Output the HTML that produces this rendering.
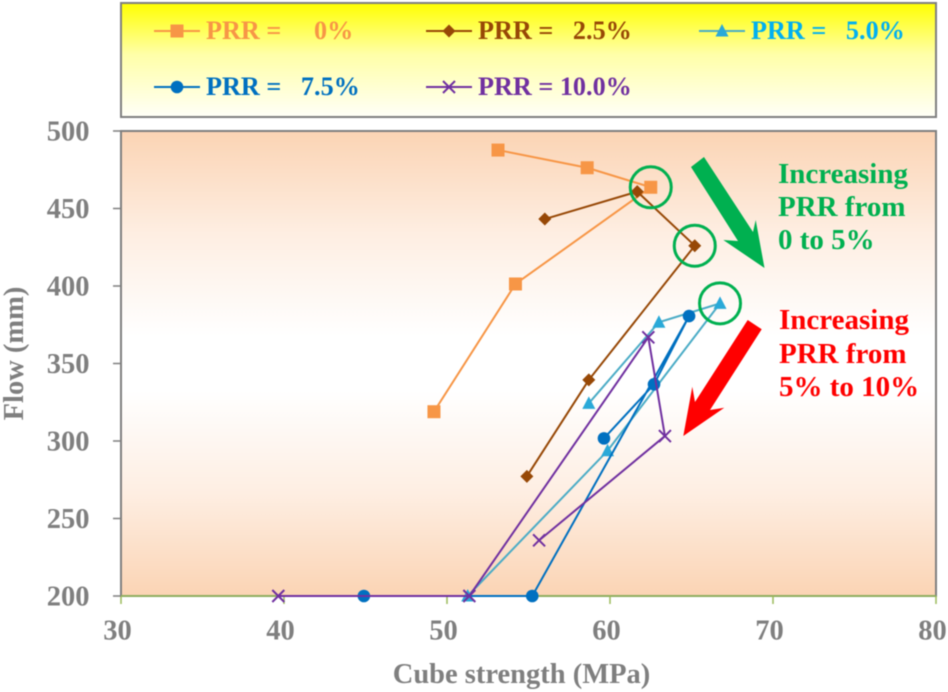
<!DOCTYPE html>
<html lang="en">
<head>
<meta charset="utf-8">
<title>Flow vs cube strength</title>
<style>
html,body{margin:0;padding:0;background:#fff;}
body{width:948px;height:692px;overflow:hidden;}
svg{display:block;font-family:"Liberation Serif",serif;font-weight:bold;filter:blur(0.5px);}
text{white-space:pre;}
</style>
</head>
<body>
<svg id="chart" xmlns="http://www.w3.org/2000/svg" width="948" height="692" viewBox="0 0 948 692">
  <defs>
    <linearGradient id="legendFill" x1="0" y1="0" x2="0" y2="1">
      <stop offset="0" stop-color="#ffff00"/>
      <stop offset="0.45" stop-color="#ffffa8"/>
      <stop offset="1" stop-color="#fffff8"/>
    </linearGradient>
    <linearGradient id="plotFill" x1="0" y1="0" x2="0" y2="1">
      <stop offset="0" stop-color="#fbd4b4"/>
      <stop offset="0.22" stop-color="#feeee2"/>
      <stop offset="0.44" stop-color="#ffffff"/>
      <stop offset="0.56" stop-color="#ffffff"/>
      <stop offset="0.78" stop-color="#feeee2"/>
      <stop offset="1" stop-color="#fbd4b4"/>
    </linearGradient>
  </defs>
  <rect x="121" y="3" width="815" height="114" fill="url(#legendFill)" stroke="#7f7f7f" stroke-width="2"/>
  <rect x="121" y="131" width="815" height="465" fill="url(#plotFill)" stroke="#7f7f7f" stroke-width="2"/>
  <g id="axes"></g>
  <g id="series"></g>
  <g id="highlights"></g>
  <g id="legend"></g>
  <polygon fill="#00b050" points="691,167 704,157 753,232 755.7,220 764.5,268 723.3,240 738,241"/>
  <polygon fill="#ff0000" points="747.7,320 761.7,329.3 710,410 724.3,407.7 683.3,436 692.3,386.7 695,402"/>
  <text fill="#00b050" font-size="29">
    <tspan x="778" y="183">Increasing</tspan>
    <tspan x="778" y="216">PRR from</tspan>
    <tspan x="778" y="249">0 to 5%</tspan>
  </text>
  <text fill="#ff0000" font-size="29">
    <tspan x="779" y="329">Increasing</tspan>
    <tspan x="779" y="363">PRR from</tspan>
    <tspan x="779" y="396">5% to 10%</tspan>
  </text>
  <text x="521.5" y="683" text-anchor="middle" fill="#7f7f7f" font-size="28.5">Cube strength (MPa)</text>
  <text transform="translate(23,353.5) rotate(-90)" text-anchor="middle" fill="#7f7f7f" font-size="28.5">Flow (mm)</text>
</svg>
<script>
var xTicks = [30, 40, 50, 60, 70, 80];
var yTicks = [200, 250, 300, 350, 400, 450, 500];

var prr0Strength = [53.13, 58.6, 62.5, 54.2, 49.2];
var prr0Flow = [487.7, 476.3, 463.7, 401.3, 318.9];
var prr25Strength = [56.0, 61.67, 65.2, 58.7, 54.9];
var prr25Flow = [443.2, 460.9, 426, 339.4, 277.2];
var prr50Strength = [58.7, 63.0, 66.75, 59.85, 51.27];
var prr50Flow = [324.3, 376.6, 388.8, 293.7, 200];
var prr75Strength = [59.63, 62.7, 64.85, 55.23, 44.9];
var prr75Flow = [301.7, 336.6, 380.6, 200, 200];
var prr100Strength = [55.65, 63.37, 62.35, 51.37, 39.65];
var prr100Flow = [235.9, 303.2, 366.9, 200, 200];

var legendLabels = ["PRR =     0%", "PRR =   2.5%", "PRR =   5.0%", "PRR =   7.5%", "PRR = 10.0%"];
var lineColors = ["#f79646", "#974806", "#4bacc6", "#0070c0", "#7030a0"];
var markerColors = ["#f79646", "#974806", "#2aa9d8", "#0070c0", "#7030a0"];
var labelColors = ["#f79646", "#974806", "#00b0f0", "#0070c0", "#7030a0"];
var markerShapes = ["square", "diamond", "triangle", "circle", "cross"];

var NS = "http://www.w3.org/2000/svg";
function xPos(v) { return 121 + (v - 30) * 16.3; }
function yPos(v) { return 596 - (v - 200) * 1.55; }
function make(tag, attrs, parent) {
  var node = document.createElementNS(NS, tag);
  for (var k in attrs) { node.setAttribute(k, attrs[k]); }
  parent.appendChild(node);
  return node;
}
function drawMarker(shape, color, cx, cy, parent) {
  var m;
  if (shape === "square") {
    m = make("rect", { x: cx - 6.5, y: cy - 6.5, width: 13, height: 13, fill: color }, parent);
  } else if (shape === "diamond") {
    m = make("polygon", { points: (cx - 6.5) + "," + cy + " " + cx + "," + (cy - 6.5) + " " + (cx + 6.5) + "," + cy + " " + cx + "," + (cy + 6.5), fill: color }, parent);
  } else if (shape === "triangle") {
    m = make("polygon", { points: cx + "," + (cy - 7) + " " + (cx + 6.5) + "," + (cy + 5.5) + " " + (cx - 6.5) + "," + (cy + 5.5), fill: color }, parent);
  } else if (shape === "circle") {
    m = make("circle", { cx: cx, cy: cy, r: 6.3, fill: color }, parent);
  } else {
    m = make("path", { d: "M" + (cx - 6) + " " + (cy - 6) + "L" + (cx + 6) + " " + (cy + 6) + "M" + (cx + 6) + " " + (cy - 6) + "L" + (cx - 6) + " " + (cy + 6), stroke: color, "stroke-width": 2, fill: "none" }, parent);
  }
  return m;
}

var axesGroup = document.getElementById("axes");
var xAxisLine = make("line", { x1: 121, y1: 596, x2: 936, y2: 596, stroke: "#8fae5f", "stroke-width": 2 }, axesGroup);


xTicks.forEach(function (t) {
  var tick = make("line", { x1: xPos(t), y1: 596, x2: xPos(t), y2: 604, stroke: "#9bbb59", "stroke-width": 1.5 }, axesGroup);
  
  
  var label = make("text", { x: xPos(t) - 3.5, y: 639.5, "text-anchor": "middle", fill: "#7f7f7f", "font-size": 28.5 }, axesGroup);
  label.textContent = t;
  
  
});
yTicks.forEach(function (t) {
  var tick = make("line", { x1: 113, y1: yPos(t), x2: 121, y2: yPos(t), stroke: "#7f7f7f", "stroke-width": 1.5 }, axesGroup);
  
  
  var label = make("text", { x: 89.5, y: yPos(t) + 9.5, "text-anchor": "end", fill: "#7f7f7f", "font-size": 28.5 }, axesGroup);
  label.textContent = t;
  
  
});

var strengthSets = [prr0Strength, prr25Strength, prr50Strength, prr75Strength, prr100Strength];
var flowSets = [prr0Flow, prr25Flow, prr50Flow, prr75Flow, prr100Flow];
var seriesGroup = document.getElementById("series");
strengthSets.forEach(function (xs, s) {
  var ys = flowSets[s];
  var g = make("g", {}, seriesGroup);
  
  
  var pts = xs.map(function (v, i) { return xPos(v) + "," + yPos(ys[i]); }).join(" ");
  var line = make("polyline", { points: pts, fill: "none", stroke: lineColors[s], "stroke-width": 2 }, g);
  
  
  xs.forEach(function (v, i) {
    var mark = drawMarker(markerShapes[s], markerColors[s], xPos(v), yPos(ys[i]), g);
    
    
  });
});

var highlightGroup = document.getElementById("highlights");
[0, 1, 2].forEach(function (s) {
  var ring = make("circle", { cx: xPos(strengthSets[s][2]), cy: yPos(flowSets[s][2]), r: 20.5, fill: "none", stroke: "#00b050", "stroke-width": 3 }, highlightGroup);
  
  
});

var legendGroup = document.getElementById("legend");
var legendCols = [154, 426, 699, 154, 426];
var legendRows = [31, 31, 31, 87, 87];
legendLabels.forEach(function (txt, s) {
  var lx = legendCols[s];
  var ly = legendRows[s];
  var entry = make("g", {}, legendGroup);
  
  
  var sample = make("line", { x1: lx, y1: ly, x2: lx + 46, y2: ly, stroke: lineColors[s], "stroke-width": 2 }, entry);
  
  
  var mk = drawMarker(markerShapes[s], markerColors[s], lx + 23, ly, entry);
  
  
  var label = make("text", { x: lx + 52, y: ly + 8, fill: labelColors[s], "font-size": 26.2 }, entry);
  label.textContent = txt;
  
  
});
</script>
</body>
</html>
